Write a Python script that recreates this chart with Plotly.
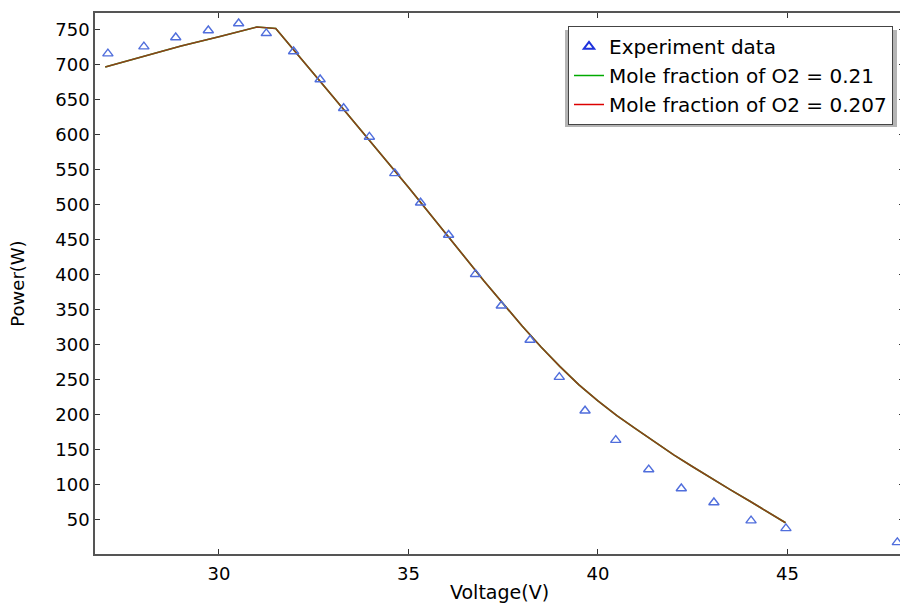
import plotly.graph_objects as go

# experiment data
exp_voltage = [27.07, 28.02, 28.86, 29.72, 30.52, 31.25, 31.97, 32.67, 33.29, 33.97,
               34.64, 35.32, 36.06, 36.77, 37.45, 38.21, 38.98, 39.66, 40.47, 41.34,
               42.20, 43.06, 44.04, 44.96, 47.90]
exp_power = [716, 726, 739, 749, 759, 745, 719, 679, 638, 597,
             545, 503, 457, 401, 356, 307, 254, 206, 164, 122,
             95, 75, 49, 38, 18]

# simulated curves
sim_voltage = [27.0, 28.0, 29.0, 30.0, 30.5, 31.0, 31.5, 32.0, 33.0, 34.0, 35.0,
               36.0, 37.0, 38.0, 38.5, 39.0, 39.5, 40.0, 40.5, 41.0, 41.5, 42.0,
               42.5, 43.0, 43.5, 44.0, 44.5, 44.95]
sim_power_021 = [697, 712, 727, 740, 747, 754, 752, 720, 655, 590, 525,
                 458, 391, 327, 297, 269, 243, 220, 199, 180, 161, 143,
                 126, 109, 93, 77, 61, 46]
sim_power_0207 = [697, 712, 727, 740, 747, 754, 752, 720, 655, 590, 525,
                  458, 391, 327, 297, 269, 243, 220, 199, 180, 161, 143,
                  126, 109, 93, 77, 61, 46]

font = "DejaVu Sans"

# plot area in page pixels (body margin removed below); the figure is a bit
# wider than the window so the right axis line falls outside, as in the original
FIG_W = 904
L, R, T, B = 95, FIG_W, 13, 554
W, H = R - L, B - T

fig = go.Figure()

# green curve underneath, red on top -> brownish overlap like the reference
fig.add_trace(go.Scatter(x=sim_voltage, y=sim_power_021, mode="lines",
                         line=dict(color="rgb(0,170,0)", width=1.6), showlegend=False))
fig.add_trace(go.Scatter(x=sim_voltage, y=sim_power_0207, mode="lines",
                         line=dict(color="rgba(165,45,30,0.85)", width=1.6), showlegend=False))
fig.add_trace(go.Scatter(x=exp_voltage, y=exp_power, mode="markers",
                         marker=dict(symbol="triangle-up-open", size=9,
                                     color="rgb(80,110,220)", line=dict(width=1.4)),
                         cliponaxis=False, showlegend=False))

# legend entries
fig.add_trace(go.Scatter(x=[None], y=[None], mode="markers", name="Experiment data",
                         marker=dict(symbol="triangle-up-open", size=9,
                                     color="rgb(30,50,220)", line=dict(width=2))))
fig.add_trace(go.Scatter(x=[None], y=[None], mode="lines", name="Mole fraction of O2 = 0.21",
                         line=dict(color="rgb(0,170,0)", width=1.5)))
fig.add_trace(go.Scatter(x=[None], y=[None], mode="lines", name="Mole fraction of O2 = 0.207",
                         line=dict(color="rgb(220,0,0)", width=1.5)))

axis_common = dict(showgrid=False, zeroline=False, showline=True, linecolor="#555555",
                   linewidth=1.5, mirror="ticks", ticks="inside", ticklen=5,
                   tickcolor="#333333", automargin=False,
                   tickfont=dict(family=font, size=18, color="black"))

fig.update_xaxes(range=[26.73, 26.73 + W / 37.9], tickvals=[30, 35, 40, 45], ticklabelstandoff=3,
                 title=dict(text="Voltage(V)", font=dict(family=font, size=19, color="black"),
                            standoff=3),
                 **axis_common)
fig.update_yaxes(range=[1.4, 774], tickvals=list(range(50, 751, 50)),
                 title=dict(text="Power(W)", font=dict(family=font, size=18, color="black"),
                            standoff=26),
                 **axis_common)

# legend shadow
fig.add_shape(type="rect", xref="paper", yref="paper",
              x0=(565 - L) / W, x1=(897 - L) / W,
              y0=(B - 127) / H, y1=(B - 30) / H,
              fillcolor="rgba(150,150,150,0.7)", line=dict(width=0), layer="above")

fig.update_layout(
    width=FIG_W, height=603,
    margin=dict(l=L, r=FIG_W - R, t=T, b=603 - B, autoexpand=False),
    plot_bgcolor="white", paper_bgcolor="white",
    font=dict(family=font, color="black"),
    legend=dict(x=(893 - L) / W, y=(B - 26) / H, xanchor="right", yanchor="top",
                bgcolor="white", bordercolor="#444444", borderwidth=1,
                font=dict(family=font, size=20, color="black"),
                itemwidth=30, tracegroupgap=0),
)

fig.write_html("out.html", config={"displayModeBar": False},
               post_script="document.body.style.margin='0';document.body.style.overflow='hidden';")
